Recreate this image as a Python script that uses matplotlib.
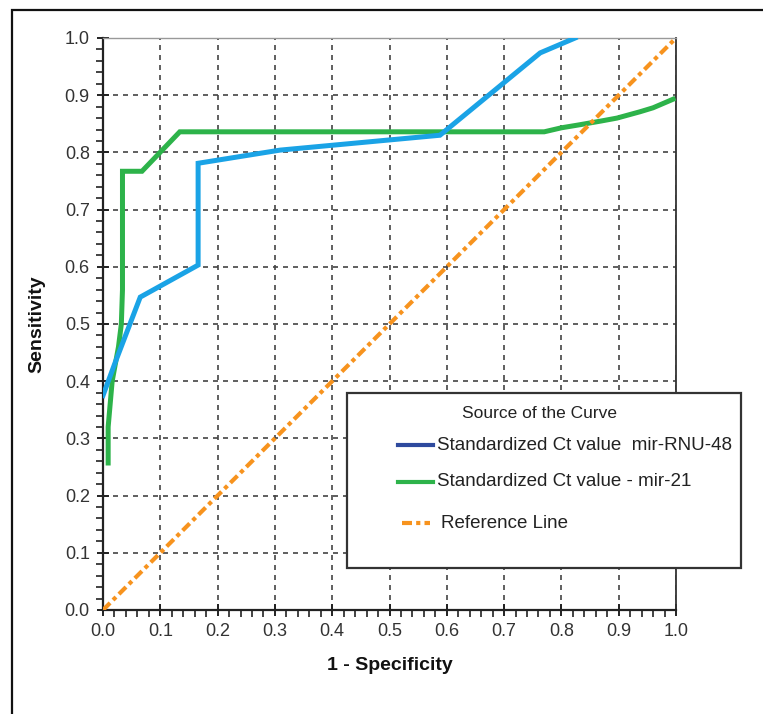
import matplotlib
matplotlib.use("Agg")
import matplotlib.pyplot as plt
from matplotlib import font_manager
from matplotlib.lines import Line2D
from matplotlib.patches import Rectangle
from matplotlib.ticker import MultipleLocator

# ---- data ----
blue_x = [0.0, 0.021, 0.065, 0.166, 0.166, 0.309, 0.588, 0.763, 0.824]
blue_y = [0.375, 0.432, 0.547, 0.603, 0.781, 0.804, 0.830, 0.974, 1.0]

green_x = [0.009, 0.009, 0.016, 0.027, 0.032, 0.034, 0.034, 0.068, 0.134,
           0.77, 0.80, 0.83, 0.87, 0.897, 0.937, 0.96, 0.995]
green_y = [0.257, 0.32, 0.40, 0.46, 0.50, 0.56, 0.767, 0.767, 0.836,
           0.836, 0.843, 0.848, 0.855, 0.86, 0.871, 0.878, 0.893]

ref_x = [0.0, 1.0]
ref_y = [0.0, 1.0]

ticks = [0.0, 0.1, 0.2, 0.3, 0.4, 0.5, 0.6, 0.7, 0.8, 0.9, 1.0]
tick_labels = ["0.0", "0.1", "0.2", "0.3", "0.4", "0.5", "0.6", "0.7", "0.8", "0.9", "1.0"]

legend_title = "Source of the Curve"
legend_labels = ["Standardized Ct value  mir-RNU-48",
                 "Standardized Ct value - mir-21",
                 "Reference Line"]

# ---- fonts ----
try:
    font_manager.findfont("Liberation Sans Narrow", fallback_to_default=False)
    tick_font, tick_size = "Liberation Sans Narrow", 14.5
except Exception:
    tick_font, tick_size = "Liberation Sans", 13
plt.rcParams["font.family"] = ["Liberation Sans", "DejaVu Sans"]

W, H = 763, 714
fig = plt.figure(figsize=(W / 100, H / 100), dpi=100)
fig.patch.set_facecolor("white")

ax = fig.add_axes([103 / W, 1 - 610 / H, (676 - 103) / W, (610 - 38) / H])

BLUE = "#1aa3e6"
GREEN = "#2db34a"
ORANGE = "#f7931e"

ax.plot(blue_x, blue_y, color=BLUE, lw=3.6, solid_joinstyle="miter", zorder=4)
ax.plot(green_x, green_y, color=GREEN, lw=3.6, solid_joinstyle="miter", zorder=3)
ax.plot(ref_x, ref_y, color=ORANGE, lw=3.0, dashes=(2.4, 1.0, 1.0, 1.0), zorder=3)

ax.set_xlim(0, 1)
ax.set_ylim(0, 1)
ax.set_xticks(ticks)
ax.set_yticks(ticks)
ax.set_xticklabels(tick_labels, family=tick_font, fontsize=tick_size, color="#333333")
ax.set_yticklabels(tick_labels, family=tick_font, fontsize=tick_size, color="#333333")
ax.xaxis.set_minor_locator(MultipleLocator(0.02))
ax.yaxis.set_minor_locator(MultipleLocator(0.02))
ax.tick_params(which="major", direction="inout", length=9, width=1.4, color="#222222", pad=5)
ax.tick_params(which="minor", direction="out", length=5, width=1.2, color="#222222")

ax.grid(True, which="major", color="#444444", linestyle=(0, (3, 3)), linewidth=1.2, zorder=1)
ax.set_axisbelow(True)

for s in ["left", "bottom"]:
    ax.spines[s].set_linewidth(1.6)
    ax.spines[s].set_color("#222222")
ax.spines["right"].set_linewidth(1.3)
ax.spines["right"].set_color("#333333")
ax.spines["top"].set_linewidth(1.0)
ax.spines["top"].set_color("#999999")

ax.set_xlabel("1 - Specificity", fontsize=14, fontweight="bold", labelpad=12, color="#111111")
ax.set_ylabel("Sensitivity", fontsize=14, fontweight="bold", labelpad=14, color="#111111")

# ---- outer frame ----
fig.add_artist(Rectangle((12 / W, -0.1), 1.2, 1 - 10 / H + 0.1, transform=fig.transFigure,
                         fill=False, edgecolor="#111111", lw=1.6, clip_on=False, zorder=0))

# ---- legend (manual box) ----
lx0, lx1, ly0, ly1 = 347, 741, 393, 568
fig.add_artist(Rectangle((lx0 / W, 1 - ly1 / H), (lx1 - lx0) / W, (ly1 - ly0) / H,
                         transform=fig.transFigure, facecolor="white", edgecolor="#333333",
                         lw=1.6, zorder=10))
fig.text(540 / W, 1 - 413 / H, legend_title, ha="center", va="center", fontsize=12.5,
         color="#222222", zorder=11)
handles = [dict(color="#2e4a9e", dashes=None, x=(398, 433), y=445, tx=437),
           dict(color=GREEN, dashes=None, x=(398, 433), y=482, tx=437),
           dict(color=ORANGE, dashes=(2.4, 1.0, 1.0, 1.0), x=(402, 430), y=523, tx=441)]
for h, lab in zip(handles, legend_labels):
    ln = Line2D([h["x"][0] / W, h["x"][1] / W], [1 - h["y"] / H, 1 - h["y"] / H],
                transform=fig.transFigure, color=h["color"], lw=3.0, zorder=11)
    if h["dashes"]:
        ln.set_dashes(h["dashes"])
    fig.add_artist(ln)
    fig.text(h["tx"] / W, 1 - h["y"] / H, lab, ha="left", va="center", fontsize=13.5,
             color="#222222", zorder=11)

fig.savefig("out.png", dpi=100)
